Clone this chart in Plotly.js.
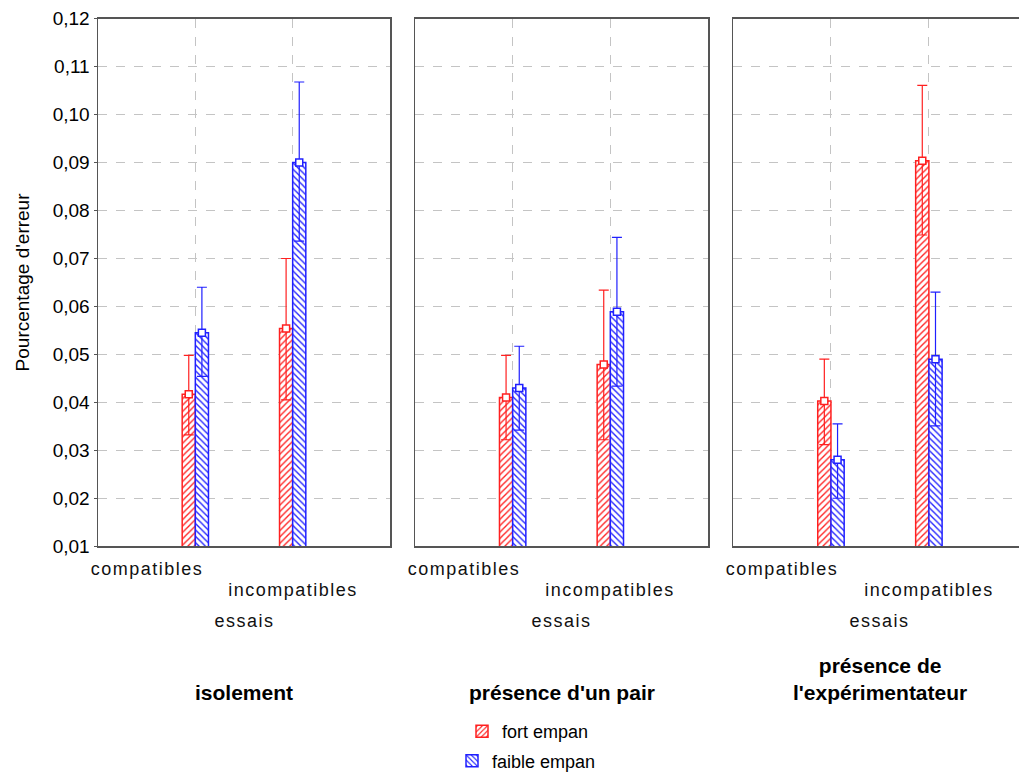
<!DOCTYPE html>
<html>
<head>
<meta charset="utf-8">
<script src="https://cdn.plot.ly/plotly-3.0.1.min.js"></script>
<style>
  html, body { margin: 0; padding: 0; background: #fff; }
  #chart { width: 1019px; height: 780px; }
  .spaced .annotation-text { letter-spacing: 1.5px; }
</style>
</head>
<body>
<div id="chart"></div>
<script>
// ---- data ----
const conditions = ["isolement", "présence d'un pair", "présence de<br>l'expérimentateur"];
const essais = ["compatibles", "incompatibles"];
const essaisPos = [1, 2];
const seriesNames = ["fort empan", "faible empan"];

const fortMean  = [[0.0417, 0.0554], [0.0410, 0.0479], [0.0403, 0.0904]];
const fortUpper = [[0.0498, 0.0700], [0.0498, 0.0634], [0.0490, 0.1061]];
const fortLower = [[0.0332, 0.0405], [0.0322, 0.0322], [0.0312, 0.0749]];

const faibleMean  = [[0.0545, 0.0900], [0.0430, 0.0589], [0.0280, 0.0490]];
const faibleUpper = [[0.0640, 0.1068], [0.0517, 0.0744], [0.0355, 0.0630]];
const faibleLower = [[0.0454, 0.0736], [0.0342, 0.0434], [0.0200, 0.0351]];

const yTicks = [0.01, 0.02, 0.03, 0.04, 0.05, 0.06, 0.07, 0.08, 0.09, 0.10, 0.11, 0.12];

// ---- styles ----
const RED = "#ff2020";
const BLUE = "#2020ff";
const BW = 0.135;           // bar width in category units
const FONT = "Liberation Sans, Arial, sans-serif";

const series = [
  {name: seriesNames[0], mean: fortMean, up: fortUpper, lo: fortLower, color: RED, shape: "/", offset: -BW, legend: "legend"},
  {name: seriesNames[1], mean: faibleMean, up: faibleUpper, lo: faibleLower, color: BLUE, shape: "\\", offset: 0, legend: "legend2"}
];

const traces = [];
const sfx = ["", "2", "3"];

conditions.forEach((cond, p) => {
  series.forEach((s) => {
    traces.push({
      type: "bar",
      x: essaisPos,
      y: s.mean[p],
      width: BW,
      offset: s.offset,
      xaxis: "x" + sfx[p],
      yaxis: "y" + sfx[p],
      name: s.name,
      legend: s.legend,
      showlegend: p === 0,
      marker: {
        color: "#ffffff",
        line: {color: s.color, width: 1.5},
        pattern: {shape: s.shape, fgcolor: s.color, bgcolor: "#ffffff", size: 4.5, solidity: 0.3}
      },
      hoverinfo: "skip"
    });
  });
});
conditions.forEach((cond, p) => {
  series.forEach((s) => {
    const xs = essaisPos.map(c => c + s.offset + BW / 2);
    traces.push({
      type: "scatter",
      mode: "markers",
      x: xs,
      y: s.mean[p],
      xaxis: "x" + sfx[p],
      yaxis: "y" + sfx[p],
      showlegend: false,
      marker: {symbol: "square", size: 7, color: "#ffffff", line: {color: s.color, width: 1.5}},
      error_y: {
        type: "data",
        symmetric: false,
        array: s.up[p].map((u, i) => u - s.mean[p][i]),
        arrayminus: s.mean[p].map((m, i) => m - s.lo[p][i]),
        color: s.color,
        thickness: 1.2,
        width: 5
      },
      hoverinfo: "skip"
    });
  });
});

const W = 1019, H = 780;
const yDom = [(H - 554) / H, (H - 19) / H];
const xDoms = [[98 / W, 390 / W], [415 / W, 708 / W], [733 / W, 1]];
const xRanges = [[0, 3], [0, 3], [0, 2.92]];

const layout = {
  width: W, height: H,
  margin: {l: 0, r: 0, t: 0, b: 0},
  paper_bgcolor: "#ffffff",
  plot_bgcolor: "#ffffff",
  separators: ", ",
  font: {family: FONT, size: 18, color: "#000"},
  annotations: [],
  legend: {
    x: 462 / W, y: 1 - 742 / H, xanchor: "left", yanchor: "middle",
    font: {family: FONT, size: 18, color: "#000"}, bgcolor: "rgba(0,0,0,0)"
  },
  legend2: {
    x: 452 / W, y: 1 - 772 / H, xanchor: "left", yanchor: "middle",
    font: {family: FONT, size: 18, color: "#000"}, bgcolor: "rgba(0,0,0,0)"
  }
};

conditions.forEach((cond, p) => {
  layout["xaxis" + sfx[p]] = {
    domain: xDoms[p],
    range: xRanges[p],
    anchor: "y" + sfx[p],
    tickvals: essaisPos,
    showticklabels: false,
    ticks: "",
    showgrid: true,
    gridcolor: "#c4c4c4",
    griddash: "dash",
    gridwidth: 1,
    zeroline: false,
    showline: true,
    linecolor: "#555555",
    linewidth: 1.5,
    mirror: true,
    fixedrange: true
  };
  layout["yaxis" + sfx[p]] = {
    domain: yDom,
    range: [0.01, 0.12],
    anchor: "x" + sfx[p],
    tickvals: yTicks,
    tickformat: ".2f",
    showticklabels: p === 0,
    ticks: p === 0 ? "outside" : "",
    ticklen: 3,
    tickcolor: "#555555",
    tickfont: {family: FONT, size: 19, color: "#000"},
    showgrid: true,
    gridcolor: "#c4c4c4",
    griddash: "dash",
    gridwidth: 1,
    zeroline: false,
    showline: true,
    linecolor: "#555555",
    linewidth: 1.5,
    mirror: p < 2,
    fixedrange: true,
    title: p === 0 ? {text: "Pourcentage d'erreur", font: {family: FONT, size: 19, color: "#000"}, standoff: 18} : undefined
  };

  const xr = "x" + sfx[p];
  layout.annotations.push(
    {xref: xr, yref: "paper", x: 0.5, y: 1 - 577 / H, text: essais[0], showarrow: false,
     xanchor: "center", yanchor: "middle", font: {family: FONT, size: 18, color: "#111"}},
    {xref: xr, yref: "paper", x: 2.0, y: 1 - 598 / H, text: essais[1], showarrow: false,
     xanchor: "center", yanchor: "middle", font: {family: FONT, size: 18, color: "#111"}},
    {xref: xr, yref: "paper", x: 1.5, y: 1 - 630 / H, text: "essais", showarrow: false,
     xanchor: "center", yanchor: "middle", font: {family: FONT, size: 18, color: "#111"}},
    {xref: xr, yref: "paper", x: 1.5, y: 1 - (p === 2 ? 689 : 702) / H, text: "<b>" + cond + "</b>", showarrow: false,
     xanchor: "center", yanchor: "middle", font: {family: FONT, size: 21, color: "#000"}}
  );
});

Plotly.newPlot("chart", traces, layout, {displayModeBar: false, staticPlot: true}).then(gd => {
  // letter spacing only for the axis category labels (not the bold titles)
  const anns = gd.querySelectorAll(".annotation");
  anns.forEach((a, i) => { if (i % 4 !== 3) a.classList.add("spaced"); });
});
</script>
</body>
</html>
